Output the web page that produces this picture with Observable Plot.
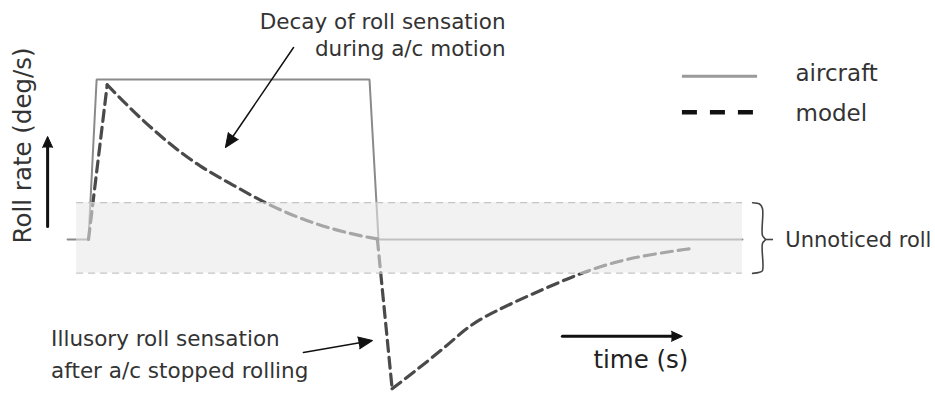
<!DOCTYPE html>
<html><head><meta charset="utf-8">
<script src="https://cdn.jsdelivr.net/npm/d3@7"></script>
<script src="https://cdn.jsdelivr.net/npm/@observablehq/plot@0.6"></script>
<style>html,body{margin:0;padding:0;background:#fff;} #chart{width:935px;height:400px;}</style>
</head><body><div id="chart"></div>
<script>
// ---- data (time in s, roll rate in deg/s; schematic values) ----
const aircraftTime = [-0.72, 0, 0.28, 9.69, 10, 22.55];
const aircraftRate = [0, 0, 10, 10, 0, 0];

const modelTime = [0, 0.645, 1.56, 2.71, 3.86, 5.01, 6.16, 7.31, 8.46, 9.61, 9.96,
                   10.47, 11.22, 12.37, 12.93, 13.52, 14.09, 14.67, 15.82, 16.97, 18.11, 19.27, 20.87];
const modelRate = [0, 9.67, 7.96, 6.08, 4.52, 3.38, 2.2, 1.3, 0.61, 0.14, 0.04,
                   -9.33, -8.29, -6.63, -5.69, -4.96, -4.44, -3.92, -3.0, -2.1, -1.42, -0.96, -0.54];
// model pieces (index ranges): onset, decay during motion, reversal, illusory decay
const modelPieces = [[0, 1], [1, 10], [10, 11], [11, 22]];

// unnoticed-roll threshold band
const bandTime = [-0.41, 22.55];
const bandRate = [-2.1, 2.3];

// bracket next to the band
const bracketTime = [22.9, 23.14, 23.24, 23.24, 23.34, 23.24, 23.24, 23.14, 22.9];
const bracketRate = [2.3, 2.22, 1.94, 0.25, 0, -0.25, -1.94, -2.05, -2.12];
const bracketTick = [23.34, 23.62];

// legend
const legendLabels = ["aircraft", "model"];
const legendLineTime = [20.48, 23.07];
const legendRate = [10.2, 7.96];
const legendTextRate = [10.34, 7.87];
const legendTextTime = 24.38;

// annotations
const decayNote = ["Decay of roll sensation", "during a/c motion"];
const decayNoteTime = 14.38, decayNoteRate = [13.6, 11.91];
const illusoryNote = ["Illusory roll sensation", "after a/c stopped rolling"];
const illusoryNoteTime = -1.29, illusoryNoteRate = [-6.2, -8.2];
const bandNote = "Unnoticed roll";
const bandNoteTime = 24.03, bandNoteRate = -0.05;

const timeLabel = "time (s)";
const rateLabel = "Roll rate (deg/s)";

// annotation arrows: from (t1,r1) to (t2,r2)
const noteArrowT1 = [7.07, 7.41], noteArrowR1 = [12.0, -7.06];
const noteArrowT2 = [4.72, 9.79], noteArrowR2 = [5.75, -6.31];
// axis arrows (time, roll rate)
const axisArrowT1 = [16.34, -1.41], axisArrowR1 = [-6.05, 0.81];
const axisArrowT2 = [20.48, -1.41], axisArrowR2 = [-6.05, 6.44];

// ---- build ----
const xDomain = [-3, 29], xRange = [1, 929];
const yDomain = [-10, 15], yRange = [399, -1];
const xs = d3.scaleLinear(xDomain, xRange), ys = d3.scaleLinear(yDomain, yRange);

const aircraft = aircraftTime.map((t, i) => ({t, r: aircraftRate[i]}));
const model = modelPieces.flatMap(([a, b], k) =>
  d3.range(a, b + 1).map(i => ({t: modelTime[i], r: modelRate[i], piece: k})));
const bracket = bracketTime.map((t, i) => ({t, r: bracketRate[i]}));

function arrows(t1, r1, t2, r2) {
  return t1.map((_, i) => {
    const dx = xs(t2[i]) - xs(t1[i]), dy = ys(r2[i]) - ys(r1[i]);
    return {x1: t1[i], y1: r1[i], x2: t2[i], y2: r2[i], angle: Math.atan2(dx, -dy) * 180 / Math.PI};
  });
}
const noteArrows = arrows(noteArrowT1, noteArrowR1, noteArrowT2, noteArrowR2);
const axisArrows = arrows(axisArrowT1, axisArrowR1, axisArrowT2, axisArrowR2);

const font = "DejaVu Sans";
const ink = "#333";

const chart = Plot.plot({
  width: 935,
  height: 400,
  x: {domain: xDomain, range: xRange, axis: null},
  y: {domain: yDomain, range: yRange, axis: null},
  style: {fontFamily: font, background: "#fff"},
  marks: [
    Plot.line(aircraft, {x: "t", y: "r", stroke: "#8a8a8a", strokeWidth: 2, strokeLinejoin: "miter"}),
    Plot.line(model, {x: "t", y: "r", z: "piece", curve: "basis", stroke: "#4a4a4a",
                      strokeWidth: 3.2, strokeDasharray: "11,6"}),
    // translucent threshold band laid over the curves
    Plot.rect([0], {x1: bandTime[0], x2: bandTime[1], y1: bandRate[0], y2: bandRate[1],
                    fill: "#e8e8e8", fillOpacity: 0.58}),
    Plot.ruleY(bandRate, {x1: bandTime[0], x2: bandTime[1], stroke: "#c4c4c4",
                          strokeWidth: 1.2, strokeDasharray: "7,5"}),
    Plot.line(bracket, {x: "t", y: "r", curve: "catmull-rom", stroke: "#444", strokeWidth: 1.6}),
    Plot.ruleY([0], {x1: bracketTick[0], x2: bracketTick[1], stroke: "#444", strokeWidth: 1.6}),
    // legend
    Plot.ruleY([legendRate[0]], {x1: legendLineTime[0], x2: legendLineTime[1], stroke: "#9a9a9a", strokeWidth: 3}),
    Plot.ruleY([legendRate[1]], {x1: legendLineTime[0], x2: legendLineTime[1], stroke: "#111",
                                 strokeWidth: 4.5, strokeDasharray: "15,13"}),
    Plot.text(legendLabels, {x: legendTextTime, y: (d, i) => legendTextRate[i], text: d => d,
                             textAnchor: "start", fontSize: 23, fill: ink}),
    // annotations
    Plot.text(decayNote, {x: decayNoteTime, y: (d, i) => decayNoteRate[i], text: d => d,
                          textAnchor: "end", fontSize: 21.5, fill: ink}),
    Plot.text(illusoryNote, {x: illusoryNoteTime, y: (d, i) => illusoryNoteRate[i], text: d => d,
                             textAnchor: "start", fontSize: 21.5, fill: ink}),
    Plot.text([bandNote], {x: bandNoteTime, y: bandNoteRate, text: d => d,
                           textAnchor: "start", fontSize: 21, fill: ink}),
    Plot.text([timeLabel], {x: 17.41, y: -7.56, text: d => d, textAnchor: "start", fontSize: 24.5, fill: "#222"}),
    Plot.text([rateLabel], {x: -2.27, y: -0.25, text: d => d, rotate: -90, textAnchor: "start", fontSize: 24.5, fill: ink}),
    // arrows: shafts + filled heads
    Plot.arrow(noteArrows, {x1: "x1", y1: "y1", x2: "x2", y2: "y2", stroke: "#111", strokeWidth: 1.5,
                            headLength: 0, insetEnd: 10}),
    Plot.vector(noteArrows, {x: "x2", y: "y2", rotate: "angle", length: 14, r: 6, shape: "spike",
                             anchor: "end", fill: "#111", stroke: "#111", strokeWidth: 1}),
    Plot.arrow(axisArrows, {x1: "x1", y1: "y1", x2: "x2", y2: "y2", stroke: "#111", strokeWidth: 3,
                            headLength: 0, insetEnd: 8}),
    Plot.vector(axisArrows, {x: "x2", y: "y2", rotate: "angle", length: 11, r: 5, shape: "spike",
                             anchor: "end", fill: "#111", stroke: "#111", strokeWidth: 1})
  ]
});
document.getElementById("chart").appendChild(chart);
</script>
</body></html>
